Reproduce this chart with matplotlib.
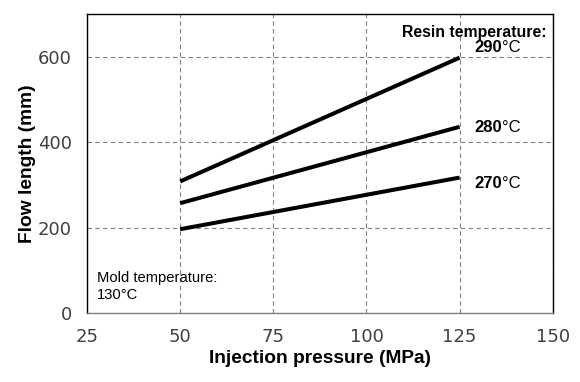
import matplotlib
matplotlib.use("Agg")
import matplotlib.pyplot as plt

plt.rcParams["font.family"] = ["Liberation Sans", "DejaVu Sans"]

# flow length vs injection pressure, one line per resin temperature
pressure = [50, 125]
resin_temps = ["290", "280", "270"]
flow_290 = [308, 598]
flow_280 = [257, 436]
flow_270 = [196, 317]
series = [flow_290, flow_280, flow_270]

x_ticks = [25, 50, 75, 100, 125, 150]
y_ticks = [0, 200, 400, 600]

fig = plt.figure(figsize=(5.8, 3.82), dpi=100)
ax = fig.add_axes([0.150, 0.181, 0.803, 0.782])

for ys in series:
    ax.plot(pressure, ys, color="black", lw=2.9, solid_capstyle="butt")

ax.set_xlim(25, 150)
ax.set_ylim(0, 700)
ax.set_xticks(x_ticks)
ax.set_yticks(y_ticks)
ax.grid(True, color="#808080", ls=(0, (4, 3)), lw=0.8)
ax.tick_params(length=0, labelsize=13, colors="#404040")
ax.tick_params(axis="y", pad=11)
ax.tick_params(axis="x", pad=11)
for lab in ax.get_xticklabels() + ax.get_yticklabels():
    lab.set_family("DejaVu Sans")
for s in ax.spines.values():
    s.set_color("black")
    s.set_linewidth(1.0)
ax.spines["bottom"].set_color("#808080")

ax.set_xlabel("Injection pressure (MPa)", fontsize=13.8, fontweight="bold", labelpad=3)
ax.set_ylabel("Flow length (mm)", fontsize=13.8, fontweight="bold", labelpad=1)

ax.text(148.4, 658, "Resin temperature:", fontsize=11.4, fontweight="bold",
        ha="right", va="center")
label_dy = [7.2, -0.7, -4.3]  # label offsets from line end, in points
for t, ys, dy in zip(resin_temps, series, label_dy):
    num = ax.annotate(t, (pressure[-1], ys[-1]), xytext=(10.5, dy),
                      textcoords="offset points", fontsize=12, fontweight="bold",
                      ha="left", va="center")
    ax.annotate("°C", (1, 0.5), xycoords=num, fontsize=12, ha="left", va="center")

ax.text(27.6, 62, "Mold temperature:\n130°C", fontsize=10.6, ha="left", va="center",
        linespacing=1.25)

fig.savefig("out.png", dpi=100)
